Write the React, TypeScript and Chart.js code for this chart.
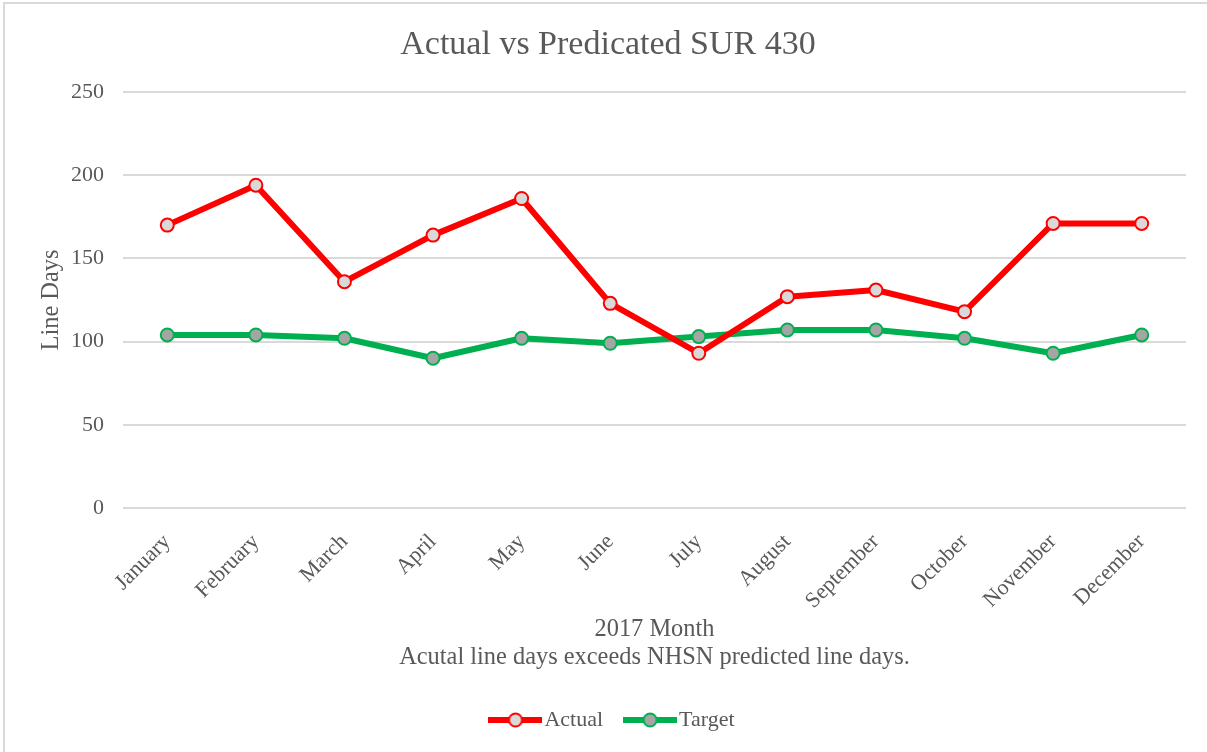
import React, { useEffect, useRef } from "react";
import { Chart, registerables } from "chart.js";

Chart.register(...registerables);

const months = [
  "January", "February", "March", "April", "May", "June",
  "July", "August", "September", "October", "November", "December",
];
const actualValues = [170, 194, 136, 164, 186, 123, 93, 127, 131, 118, 171, 171];
const targetValues = [104, 104, 102, 90, 102, 99, 103, 107, 107, 102, 93, 104];
const seriesNames = ["Actual", "Target"];
const chartTitle = "Actual vs Predicated SUR 430";
const yAxisTitle = "Line Days";
const xAxisTitle = ["2017 Month", "Acutal line days exceeds NHSN predicted line days."];

const FONT = "'Liberation Serif', 'Times New Roman', serif";
const TEXT = "#595959";
const RED = "#ff0000";
const GREEN = "#00b050";

function makeLegendIcon(stroke: string, fill: string) {
  const c = document.createElement("canvas");
  c.width = 54;
  c.height = 18;
  const ctx = c.getContext("2d")!;
  ctx.strokeStyle = stroke;
  ctx.lineWidth = 6;
  ctx.beginPath();
  ctx.moveTo(0, 9);
  ctx.lineTo(54, 9);
  ctx.stroke();
  ctx.beginPath();
  ctx.arc(27, 9, 6.5, 0, Math.PI * 2);
  ctx.fillStyle = fill;
  ctx.fill();
  ctx.lineWidth = 2;
  ctx.stroke();
  return c;
}

const legendShift = {
  id: "legendShift",
  afterLayout(chart: any) {
    if (chart.legend) chart.legend.left += 16;
  },
};

export default function App() {
  const ref = useRef<HTMLCanvasElement | null>(null);

  useEffect(() => {
    if (!ref.current) return;
    const icons = [makeLegendIcon(RED, "#d9d9d9"), makeLegendIcon(GREEN, "#a5a5a5")];
    const chart = new Chart(ref.current, {
      type: "line",
      data: {
        labels: months,
        datasets: [
          {
            label: seriesNames[0],
            data: actualValues,
            borderColor: RED,
            backgroundColor: "#d9d9d9",
            borderWidth: 6,
            pointRadius: 6.5,
            pointHoverRadius: 6.5,
            pointBorderWidth: 2,
            pointBorderColor: RED,
            pointBackgroundColor: "#d9d9d9",
            tension: 0,
            borderJoinStyle: "round",
            borderCapStyle: "round",
          },
          {
            label: seriesNames[1],
            data: targetValues,
            borderColor: GREEN,
            backgroundColor: "#a5a5a5",
            borderWidth: 6,
            pointRadius: 6.5,
            pointHoverRadius: 6.5,
            pointBorderWidth: 2,
            pointBorderColor: GREEN,
            pointBackgroundColor: "#a5a5a5",
            tension: 0,
            borderJoinStyle: "round",
            borderCapStyle: "round",
          },
        ],
      },
      plugins: [legendShift],
      options: {
        animation: false,
        responsive: true,
        maintainAspectRatio: false,
        layout: { padding: { left: 30, right: 21, top: 0, bottom: 11 } },
        plugins: {
          title: {
            display: true,
            text: chartTitle,
            color: TEXT,
            font: { family: FONT, size: 34, weight: "normal" },
            padding: { top: 24.6, bottom: 26.6 },
          },
          legend: {
            position: "bottom",
            labels: {
              usePointStyle: true,
              pointStyleWidth: 36,
              padding: 29,
              color: TEXT,
              font: { family: FONT, size: 22 },
              generateLabels: (c: any) =>
                c.data.datasets.map((ds: any, i: number) => ({
                  text: ds.label,
                  pointStyle: icons[i],
                  fillStyle: "transparent",
                  strokeStyle: "transparent",
                  lineWidth: 0,
                  hidden: false,
                  datasetIndex: i,
                  fontColor: TEXT,
                })),
            },
          },
          tooltip: { enabled: false },
        },
        scales: {
          x: {
            offset: true,
            grid: { display: false, drawTicks: false },
            border: { display: false },
            ticks: {
              color: TEXT,
              font: { family: FONT, size: 22 },
              minRotation: 45,
              maxRotation: 45,
              padding: 21,
            },
            title: {
              display: true,
              text: xAxisTitle,
              color: TEXT,
              font: { family: FONT, size: 24.4, lineHeight: 1.15 },
              padding: { top: 4, bottom: 8 },
            },
            afterFit: (s: any) => {
              s.height = 172;
            },
          },
          y: {
            min: 0,
            max: 250,
            grid: { color: "#d9d9d9", lineWidth: 2, drawTicks: false },
            border: { display: false },
            ticks: {
              stepSize: 50,
              color: TEXT,
              font: { family: FONT, size: 22 },
              padding: 19,
            },
            title: {
              display: true,
              text: yAxisTitle,
              color: TEXT,
              font: { family: FONT, size: 24.4 },
              padding: { top: 6.5, bottom: 0 },
            },
            afterFit: (s: any) => {
              s.width = 93;
            },
          },
        },
      },
    });
    return () => chart.destroy();
  }, []);

  return (
    <div
      style={{
        position: "fixed",
        left: 0,
        top: 0,
        width: 1207,
        height: 752,
        background: "#ffffff",
        overflow: "hidden",
      }}
    >
      <div
        style={{
          position: "absolute",
          left: 3,
          top: 2,
          width: 1204,
          height: 750,
          boxSizing: "border-box",
          borderLeft: "2px solid #d9d9d9",
          borderTop: "2px solid #d9d9d9",
        }}
      />
      <div style={{ position: "absolute", left: 0, top: 0, width: 1207, height: 752 }}>
        <canvas ref={ref} />
      </div>
    </div>
  );
}
